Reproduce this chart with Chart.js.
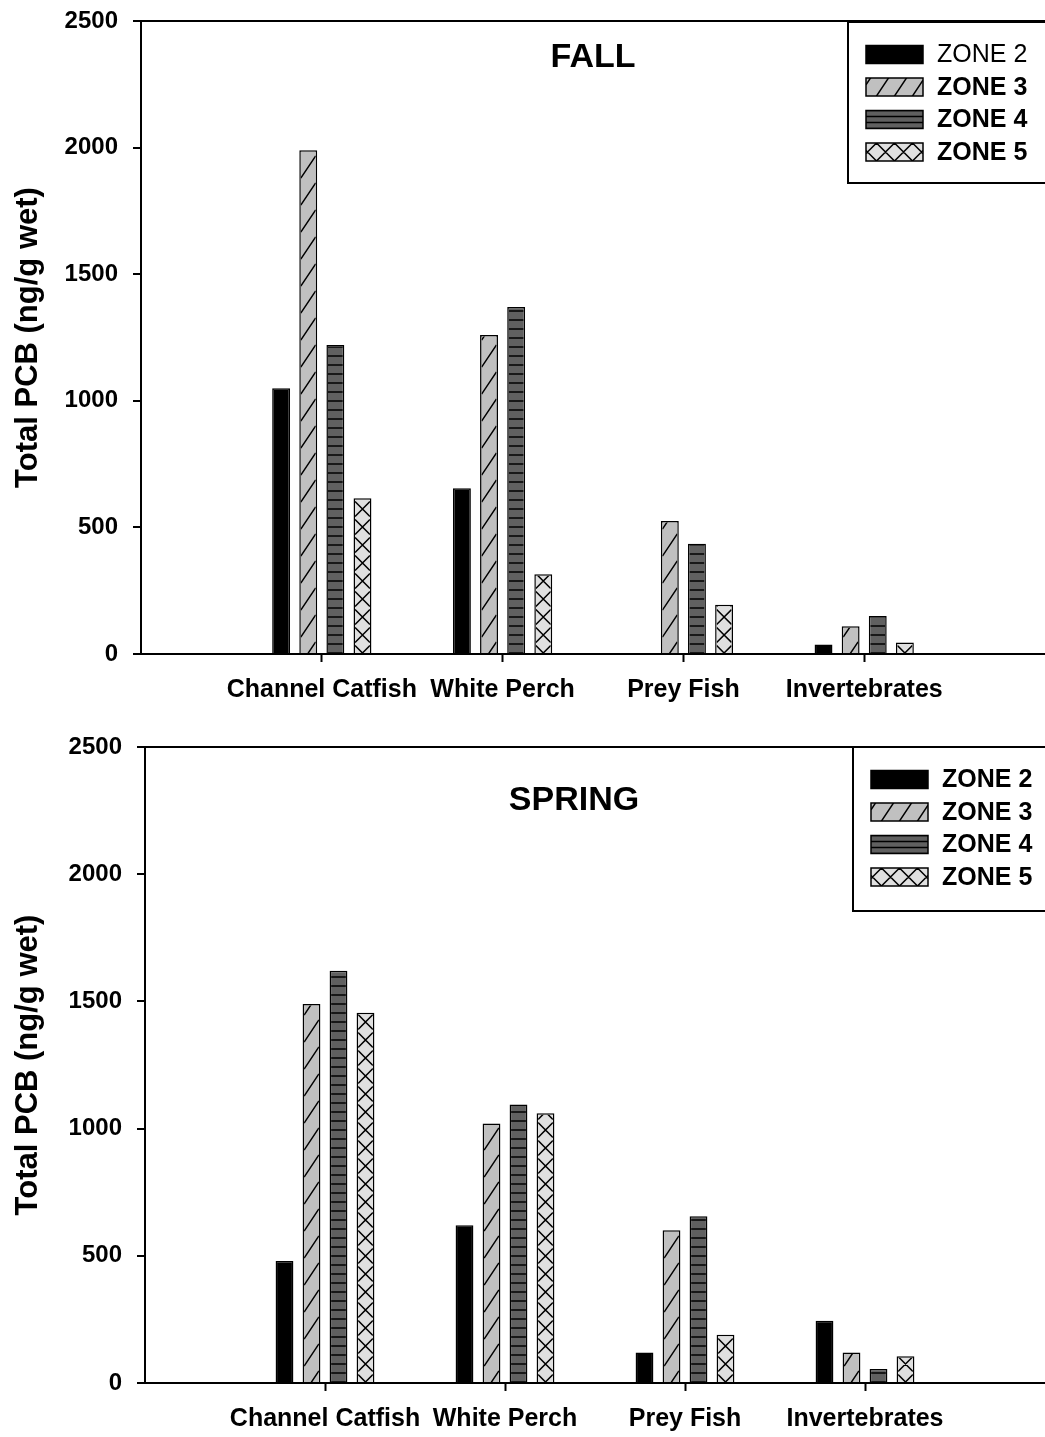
<!DOCTYPE html>
<html>
<head>
<meta charset="utf-8">
<title>Total PCB by zone - fall and spring</title>
<script src="https://cdn.jsdelivr.net/npm/chart.js@4.4.1/dist/chart.umd.min.js"></script>
<style>
  html, body { margin: 0; padding: 0; background: #fff; }
  #wrap { position: relative; width: 1045px; height: 1437px; }
  canvas { position: absolute; left: 0; }
  #fallChart { top: 0; }
  #springChart { top: 718px; }
</style>
</head>
<body>
<div id="wrap">
  <canvas id="fallChart" width="1045" height="718"></canvas>
  <canvas id="springChart" width="1045" height="719"></canvas>
</div>
<script>
// Categories and tick values
const categories = ['Channel Catfish', 'White Perch', 'Prey Fish', 'Invertebrates'];
const zones = ['ZONE 2', 'ZONE 3', 'ZONE 4', 'ZONE 5'];
const yTicks = [0, 500, 1000, 1500, 2000, 2500];

// Fall values (ng/g wet), one array per zone, in category order
const fallZone2 = [1050, 655, null, 38];
const fallZone3 = [1990, 1260, 525, 110];
const fallZone4 = [1220, 1370, 435, 150];
const fallZone5 = [615, 315, 195, 45];

// Spring values
const springZone2 = [480, 620, 120, 245];
const springZone3 = [1490, 1020, 600, 120];
const springZone4 = [1620, 1095, 655, 55];
const springZone5 = [1455, 1060, 190, 105];

// Look of each zone: fill and hatch style
const zoneFill = ['#000000', '#c0c0c0', '#606060', '#e0e0e0'];
const zoneHatch = [null, 'diag', 'horiz', 'cross'];

const FONT = '"Liberation Sans", Arial, sans-serif';
Chart.defaults.font.family = FONT;
Chart.defaults.font.weight = 'bold';
Chart.defaults.color = '#000';

// Draw a family of parallel lines y = ay + s*(X - ax) + k*p inside a rect
function lineFamily(ctx, x, y, w, h, ax, ay, s, p) {
  const e1 = s * (x - ax), e2 = s * (x + w - ax);
  const kMin = Math.floor((y - ay - Math.max(e1, e2)) / p) - 1;
  const kMax = Math.ceil((y + h - ay - Math.min(e1, e2)) / p) + 1;
  for (let k = kMin; k <= kMax; k++) {
    ctx.moveTo(x, ay + e1 + k * p);
    ctx.lineTo(x + w, ay + e2 + k * p);
  }
}

function drawHatch(ctx, kind, x, y, w, h, ax, ay, small) {
  if (!kind || w <= 0 || h <= 0) return;
  ctx.save();
  ctx.beginPath();
  ctx.rect(x, y, w, h);
  ctx.clip();
  ctx.strokeStyle = '#000';
  ctx.lineWidth = 1.5;
  ctx.beginPath();
  if (kind === 'diag') {
    lineFamily(ctx, x, y, w, h, ax, ay, -1.5, 27);
  } else if (kind === 'horiz') {
    lineFamily(ctx, x, y, w, h, ax, ay, 0, small ? 6 : 9);
  } else if (kind === 'cross') {
    lineFamily(ctx, x, y, w, h, ax, ay, 1, 18);
    lineFamily(ctx, x, y, w, h, ax, ay, -1, 18);
  }
  ctx.stroke();
  ctx.restore();
}

// Hatch overlay on every bar, inside its border
const hatchPlugin = {
  id: 'hatch',
  afterDatasetsDraw(chart) {
    const ctx = chart.ctx;
    chart.data.datasets.forEach((ds, i) => {
      if (!ds.hatch) return;
      const meta = chart.getDatasetMeta(i);
      meta.data.forEach(bar => {
        const p = bar.getProps(['x', 'y', 'base', 'width'], true);
        if (!isFinite(p.y) || !isFinite(p.base)) return;
        const bw = ds.borderWidth;
        const left = p.x - p.width / 2 + bw;
        const right = p.x + p.width / 2 - bw;
        const top = Math.min(p.y, p.base) + bw;
        const bottom = Math.max(p.y, p.base);
        drawHatch(ctx, ds.hatch, left, top, right - left, bottom - top, p.x, p.base);
      });
    });
  }
};

// Season title and boxed legend
const panelPlugin = {
  id: 'panel',
  afterDraw(chart, args, opts) {
    const ctx = chart.ctx;
    const a = chart.chartArea;
    ctx.save();
    ctx.fillStyle = '#000';
    ctx.textAlign = 'center';
    ctx.textBaseline = 'middle';
    ctx.font = 'bold 34px ' + FONT;
    ctx.fillText(opts.title, a.left + opts.titleDx, a.top + opts.titleDy);

    const bx = a.left + opts.legendDx;
    const by = a.top + opts.legendDy;
    ctx.fillStyle = '#fff';
    ctx.fillRect(bx, by, 400, opts.legendH);
    ctx.strokeStyle = '#000';
    ctx.lineWidth = 2;
    ctx.strokeRect(bx, by, 400, opts.legendH);

    chart.data.datasets.forEach((ds, i) => {
      const cy = by + 32.5 + i * 32.5;
      const sx = bx + 18, sy = cy - 9, sw = 57, sh = 18;
      ctx.fillStyle = ds.backgroundColor;
      ctx.fillRect(sx, sy, sw, sh);
      drawHatch(ctx, ds.hatch, sx, sy, sw, sh, sx + sw / 2, sy + sh, true);
      ctx.strokeStyle = '#000';
      ctx.lineWidth = 1.5;
      ctx.strokeRect(sx, sy, sw, sh);
      ctx.fillStyle = '#000';
      ctx.textAlign = 'left';
      const weight = (i === 0 && opts.plainFirst) ? 'normal' : 'bold';
      ctx.font = weight + ' 25px ' + FONT;
      ctx.fillText(ds.label, bx + 89, cy + 1);
    });
    ctx.restore();
  }
};

function makeChart(id, series, look) {
  return new Chart(document.getElementById(id), {
    type: 'bar',
    data: {
      datasets: series.map((vals, i) => ({
        label: zones[i],
        data: vals.map((v, j) => ({ x: j + 1, y: v })),
        backgroundColor: zoneFill[i],
        borderColor: '#000',
        borderWidth: 1.5,
        hatch: zoneHatch[i]
      }))
    },
    options: {
      responsive: false,
      animation: false,
      categoryPercentage: 0.6,
      barPercentage: 0.66,
      layout: { padding: { top: look.top, left: 0, right: 0, bottom: 0 } },
      plugins: {
        legend: { display: false },
        tooltip: { enabled: false },
        panel: look
      },
      scales: {
        x: {
          type: 'linear',
          min: 0,
          max: 5,
          offset: false,
          afterBuildTicks: axis => { axis.ticks = categories.map((c, i) => ({ value: i + 1 })); },
          afterFit: axis => {
            axis.height = look.xAxisHeight;
            axis.paddingLeft = 0;
            axis.paddingRight = 0;
          },
          grid: {
            offset: false,
            drawOnChartArea: false,
            drawTicks: true,
            tickLength: 8,
            tickWidth: 2,
            tickColor: '#000',
            color: '#000'
          },
          border: { display: true, color: '#000', width: 2 },
          ticks: {
            autoSkip: false,
            maxRotation: 0,
            minRotation: 0,
            padding: 13,
            font: { size: 25, weight: 'bold' },
            callback: v => categories[v - 1] || ''
          }
        },
        y: {
          type: 'linear',
          min: 0,
          max: 2500,
          afterBuildTicks: axis => { axis.ticks = yTicks.map(v => ({ value: v })); },
          afterFit: axis => {
            axis.width = look.yAxisWidth;
            axis.paddingTop = 0;
            axis.paddingBottom = 0;
          },
          grid: {
            drawOnChartArea: true,
            color: c => (c.tick && c.tick.value === 2500) ? '#000' : 'rgba(0,0,0,0)',
            lineWidth: 2,
            tickLength: 8,
            tickWidth: 2,
            tickColor: '#000'
          },
          border: { display: true, color: '#000', width: 2 },
          ticks: {
            padding: 15,
            font: { size: 24, weight: 'bold' },
            callback: v => String(v)
          },
          title: {
            display: true,
            text: 'Total PCB (ng/g wet)',
            font: { size: 31, weight: 'bold' },
            padding: { top: 10, bottom: 0 }
          }
        }
      }
    },
    plugins: [hatchPlugin, panelPlugin]
  });
}

makeChart('fallChart', [fallZone2, fallZone3, fallZone4, fallZone5], {
  title: 'FALL', titleDx: 452, titleDy: 37,
  legendDx: 707, legendDy: 1, legendH: 161, plainFirst: true,
  yAxisWidth: 141, xAxisHeight: 64, top: 21
});

makeChart('springChart', [springZone2, springZone3, springZone4, springZone5], {
  title: 'SPRING', titleDx: 429, titleDy: 54,
  legendDx: 708, legendDy: 0, legendH: 164, plainFirst: false,
  yAxisWidth: 145, xAxisHeight: 54, top: 29
});
</script>
</body>
</html>
